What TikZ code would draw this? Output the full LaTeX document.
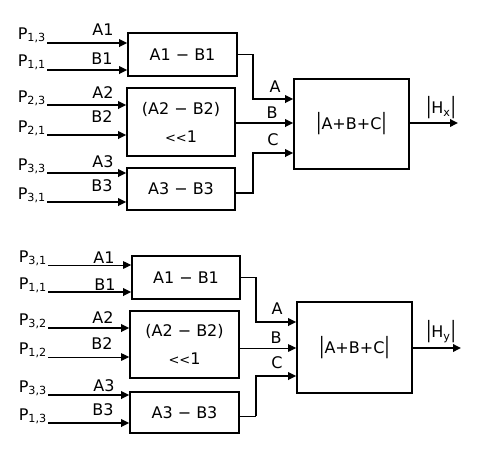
\documentclass[tikz,border=0pt]{standalone}
\usepackage{fontspec}
\setmainfont{DejaVu Sans}
\usetikzlibrary{arrows.meta}
\newcommand{\tbar}{\scalebox{1}[1.4]{|}}
\begin{document}
\begin{tikzpicture}[x=1pt,y=-1pt,
  font=\fontsize{16}{18}\selectfont,
  thk/.style={line width=1.8pt},
  thn/.style={line width=1pt},
  arr/.style={-{Triangle[length=8pt,width=7.5pt]}},
  blk/.style={draw,line width=1.6pt,inner sep=0pt,align=center},
  lbl/.style={inner sep=0pt},
  plbl/.style={inner sep=0pt,anchor=base east}]
\useasboundingbox (0,0) rectangle (483,451);

% ---------------- top diagram ----------------
\node[blk,minimum width=109pt,minimum height=43pt] (b11) at (182.5,54.5) {A1 − B1};
\node[blk,minimum width=108pt,minimum height=68pt] (b12) at (181,122) {(A2 − B2)\\[10pt]{\fontsize{13}{14}\selectfont <{}<}1};
\node[blk,minimum width=108pt,minimum height=42pt] (b13) at (181,189) {A3 − B3};
\node[blk,minimum width=115pt,minimum height=90pt] (bT) at (351.5,124) {\tbar A+B+C\tbar};

\coordinate (t1) at (47,43);  \coordinate (t2) at (47,70);
\coordinate (t3) at (47,105); \coordinate (t4) at (47,135);
\coordinate (t5) at (47,173); \coordinate (t6) at (47,202);

\node[plbl] (pt1) at (46,39) {P\textsubscript{1,3}};
\node[plbl] (pt2) at (46,66) {P\textsubscript{1,1}};
\node[plbl] (pt3) at (46,102) {P\textsubscript{2,3}};
\node[plbl] (pt4) at (46,132) {P\textsubscript{2,1}};
\node[plbl] (pt5) at (46,170) {P\textsubscript{3,3}};
\node[plbl] (pt6) at (46,199) {P\textsubscript{3,1}};

\node[lbl] (la1) at (103,30) {A1};
\node[lbl] (lb1) at (102,59) {B1};
\node[lbl] (la2) at (103,93) {A2};
\node[lbl] (lb2) at (102,117) {B2};
\node[lbl] (la3) at (103,162) {A3};
\node[lbl] (lb3) at (102,186) {B3};

\draw[thk,arr] (t1) -- (t1 -| b11.west);
\draw[thk,arr] (t2) -- (t2 -| b11.west);
\draw[thk,arr] (t3) -- (t3 -| b12.west);
\draw[thk,arr] (t4) -- (t4 -| b12.west);
\draw[thk,arr] (t5) -- (t5 -| b13.west);
\draw[thk,arr] (t6) -- (t6 -| b13.west);

\coordinate (ya) at (0,99); \coordinate (yb) at (0,123); \coordinate (yc) at (0,153);
\draw[thk,arr] (b11.east) -- ++(15,0) |- (bT.west |- ya);
\draw[thk,arr] (b12.east |- yb) -- (bT.west |- yb);
\draw[thk,arr] ([yshift=-4pt]b13.east) -- ++(17,0) |- (bT.west |- yc);

\node[lbl] (lA) at (275,87) {A};
\node[lbl] (lB) at (272,113) {B};
\node[lbl] (lC) at (273,140) {C};

\coordinate (hx) at (458,123);
\draw[thk,arr] (bT.east |- hx) -- (hx);
\node[lbl] (lhx) at (441,108) {\tbar H\textsubscript{x}\tbar};

% ---------------- bottom diagram ----------------
\node[blk,minimum width=108pt,minimum height=43pt] (b21) at (186,277.5) {A1 − B1};
\node[blk,minimum width=109pt,minimum height=67pt] (b22) at (184.5,344.5) {(A2 − B2)\\[10pt]{\fontsize{13}{14}\selectfont <{}<}1};
\node[blk,minimum width=109pt,minimum height=41pt] (b23) at (184.5,412.5) {A3 − B3};
\node[blk,minimum width=115pt,minimum height=91pt] (bB) at (354.5,347.5) {\tbar A+B+C\tbar};

\coordinate (s1) at (48,265); \coordinate (s2) at (48,292);
\coordinate (s3) at (48,328); \coordinate (s4) at (48,357);
\coordinate (s5) at (48,395); \coordinate (s6) at (48,423);

\node[plbl] (ps1) at (47,262) {P\textsubscript{3,1}};
\node[plbl] (ps2) at (47,289) {P\textsubscript{1,1}};
\node[plbl] (ps3) at (47,325) {P\textsubscript{3,2}};
\node[plbl] (ps4) at (47,354) {P\textsubscript{1,2}};
\node[plbl] (ps5) at (47,392) {P\textsubscript{3,3}};
\node[plbl] (ps6) at (47,420) {P\textsubscript{1,3}};

\node[lbl] (ma1) at (104,258) {A1};
\node[lbl] (mb1) at (105,285) {B1};
\node[lbl] (ma2) at (103,318) {A2};
\node[lbl] (mb2) at (102,344) {B2};
\node[lbl] (ma3) at (104,386) {A3};
\node[lbl] (mb3) at (103,410) {B3};

\draw[thn,arr] (s1) -- (s1 -| b21.west);
\draw[thk,arr] (s2) -- (s2 -| b21.west);
\draw[thk,arr] (s3) -- (s3 -| b22.west);
\draw[thn,arr] (s4) -- (s4 -| b22.west);
\draw[thk,arr] (s5) -- (s5 -| b23.west);
\draw[thk,arr] (s6) -- (s6 -| b23.west);

\coordinate (za) at (0,322); \coordinate (zb) at (0,348); \coordinate (zc) at (0,376);
\coordinate (jx) at (256,0);
\draw[thk,arr] (b21.east) -- (b21.east -| jx) |- (bB.west |- za);
\draw[thn,arr] (b22.east |- zb) -- (bB.west |- zb);
\coordinate (c3) at ([yshift=-3.5pt]b23.east);
\draw[thn] (c3) -- (c3 -| jx);
\draw[thk,arr] (c3 -| jx) -- (jx |- zc) -- (bB.west |- zc);

\node[lbl] (mA) at (277,309) {A};
\node[lbl] (mB) at (276,338) {B};
\node[lbl] (mC) at (277,363) {C};

\coordinate (hy) at (461,348);
\draw[thk,arr] (bB.east |- hy) -- (hy);
\node[lbl] (lhy) at (441,332) {\tbar H\textsubscript{y}\tbar};
\end{tikzpicture}
\end{document}
